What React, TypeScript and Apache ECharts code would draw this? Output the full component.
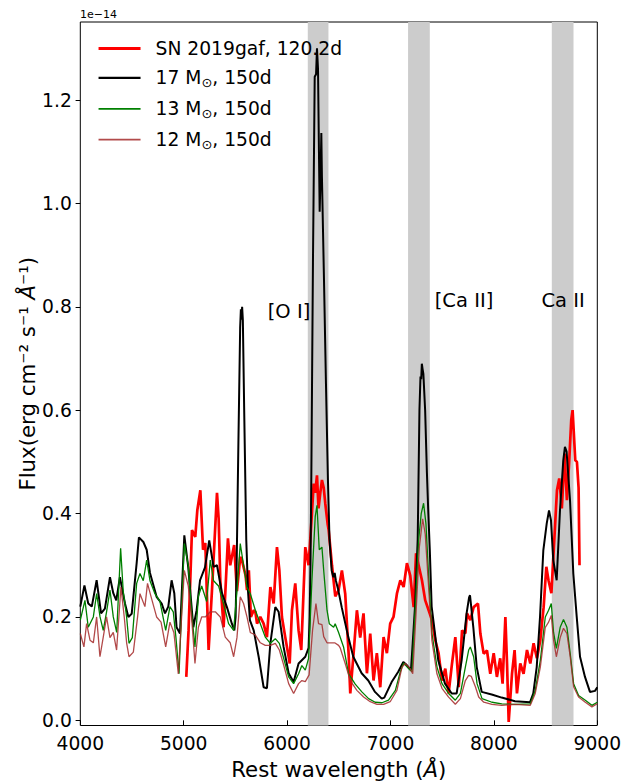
import React, { useEffect, useRef } from "react";
import * as echarts from "echarts";

// ---------- data (flux in units of 1e-14 erg cm^-2 s^-1 Å^-1) ----------
const seriesNames = ["SN 2019gaf, 120.2d", "17 M⊙, 150d", "13 M⊙, 150d", "12 M⊙, 150d"];

const redWl = [5025, 5047, 5080, 5112, 5132, 5161, 5187, 5209, 5241, 5273, 5322, 5338, 5354, 5386, 5428, 5450, 5488, 5515, 5547, 5563, 5599, 5612, 5630, 5650, 5677, 5693, 5709, 5741, 5773, 5805, 5838, 5870, 5902, 5925, 5950, 5982, 6015, 6025, 6047, 6079, 6111, 6137, 6176, 6208, 6240, 6257, 6272, 6289, 6304, 6321, 6337, 6354, 6369, 6392, 6402, 6434, 6466, 6498, 6530, 6562, 6595, 6611, 6643, 6675, 6707, 6739, 6772, 6804, 6836, 6868, 6901, 6933, 6965, 6997, 7029, 7062, 7095, 7127, 7159, 7191, 7224, 7247, 7272, 7304, 7336, 7369, 7401, 7433, 7465, 7498, 7530, 7562, 7595, 7627, 7660, 7692, 7724, 7740, 7772, 7804, 7846, 7869, 7901, 7933, 7965, 7998, 8029, 8061, 8084, 8111, 8127, 8143, 8175, 8200, 8223, 8255, 8287, 8320, 8352, 8384, 8416, 8449, 8481, 8507, 8529, 8556, 8577, 8610, 8632, 8657, 8684, 8706, 8728, 8748, 8761, 8787, 8803, 8819, 8828];
const redFlux = [0.084, 0.174, 0.368, 0.355, 0.407, 0.445, 0.33, 0.343, 0.136, 0.25, 0.44, 0.39, 0.27, 0.18, 0.352, 0.3, 0.339, 0.25, 0.316, 0.31, 0.28, 0.252, 0.29, 0.2, 0.213, 0.21, 0.187, 0.2, 0.187, 0.161, 0.258, 0.226, 0.335, 0.29, 0.2, 0.161, 0.123, 0.11, 0.213, 0.265, 0.174, 0.136, 0.335, 0.3, 0.4, 0.458, 0.44, 0.474, 0.41, 0.44, 0.465, 0.45, 0.42, 0.38, 0.368, 0.3, 0.24, 0.252, 0.29, 0.245, 0.129, 0.052, 0.129, 0.213, 0.16, 0.207, 0.091, 0.168, 0.077, 0.13, 0.064, 0.161, 0.13, 0.187, 0.2, 0.245, 0.271, 0.258, 0.304, 0.28, 0.219, 0.323, 0.3, 0.271, 0.232, 0.213, 0.194, 0.155, 0.13, 0.077, 0.1, 0.052, 0.11, 0.161, 0.064, 0.174, 0.168, 0.207, 0.194, 0.219, 0.226, 0.168, 0.129, 0.135, 0.09, 0.13, 0.084, 0.12, 0.071, 0.2, 0.11, -0.003, 0.09, 0.136, 0.052, 0.11, 0.09, 0.136, 0.11, 0.149, 0.12, 0.155, 0.219, 0.297, 0.27, 0.246, 0.323, 0.445, 0.468, 0.41, 0.516, 0.426, 0.5, 0.581, 0.6, 0.503, 0.5, 0.45, 0.3];

const m17Wl = [4000, 4040, 4077, 4111, 4158, 4201, 4238, 4287, 4319, 4348, 4383, 4432, 4465, 4497, 4545, 4567, 4610, 4642, 4674, 4738, 4787, 4819, 4851, 4883, 4909, 4931, 4964, 5006, 5044, 5093, 5125, 5158, 5206, 5247, 5289, 5322, 5370, 5418, 5466, 5490, 5502, 5512, 5530, 5546, 5553, 5559, 5565, 5572, 5585, 5605, 5622, 5640, 5677, 5725, 5773, 5805, 5838, 5886, 5918, 5966, 6015, 6063, 6111, 6176, 6208, 6218, 6226, 6234, 6250, 6267, 6280, 6289, 6299, 6308, 6315, 6323, 6331, 6337, 6357, 6376, 6395, 6410, 6431, 6447, 6460, 6472, 6495, 6528, 6592, 6640, 6721, 6785, 6850, 6915, 6940, 7011, 7075, 7124, 7157, 7198, 7215, 7237, 7263, 7280, 7290, 7297, 7303, 7310, 7318, 7335, 7352, 7366, 7380, 7398, 7462, 7527, 7592, 7640, 7688, 7736, 7760, 7769, 7801, 7834, 7882, 7979, 8075, 8204, 8349, 8381, 8414, 8446, 8478, 8511, 8533, 8552, 8574, 8607, 8639, 8671, 8687, 8703, 8736, 8768, 8801, 8833, 8881, 8929, 8978, 9000];
const m17Flux = [0.22, 0.261, 0.226, 0.22, 0.271, 0.207, 0.216, 0.277, 0.246, 0.232, 0.277, 0.226, 0.2, 0.206, 0.304, 0.354, 0.345, 0.33, 0.285, 0.239, 0.226, 0.207, 0.22, 0.271, 0.246, 0.18, 0.168, 0.358, 0.296, 0.18, 0.213, 0.271, 0.296, 0.348, 0.297, 0.3, 0.246, 0.219, 0.187, 0.174, 0.2, 0.3, 0.55, 0.76, 0.795, 0.775, 0.8, 0.775, 0.6, 0.35, 0.25, 0.194, 0.174, 0.123, 0.064, 0.062, 0.149, 0.219, 0.21, 0.142, 0.091, 0.074, 0.11, 0.123, 0.14, 0.2, 0.3, 0.465, 0.885, 1.245, 1.25, 1.3, 1.26, 1.1, 0.984, 1.05, 1.136, 1.05, 0.85, 0.65, 0.465, 0.35, 0.29, 0.277, 0.285, 0.27, 0.252, 0.219, 0.161, 0.123, 0.091, 0.077, 0.055, 0.042, 0.044, 0.074, 0.094, 0.113, 0.107, 0.097, 0.15, 0.22, 0.35, 0.6, 0.665, 0.66, 0.69, 0.68, 0.67, 0.6, 0.48, 0.4, 0.33, 0.22, 0.116, 0.071, 0.052, 0.052, 0.116, 0.207, 0.238, 0.242, 0.18, 0.103, 0.055, 0.05, 0.044, 0.037, 0.035, 0.052, 0.103, 0.2, 0.329, 0.381, 0.406, 0.387, 0.31, 0.271, 0.406, 0.503, 0.529, 0.52, 0.426, 0.284, 0.2, 0.123, 0.084, 0.055, 0.057, 0.064];

const m13Wl = [4000, 4045, 4077, 4126, 4158, 4191, 4222, 4254, 4287, 4319, 4352, 4390, 4415, 4448, 4471, 4503, 4545, 4577, 4609, 4642, 4674, 4722, 4770, 4826, 4867, 4899, 4925, 4955, 5006, 5044, 5076, 5109, 5142, 5174, 5222, 5257, 5289, 5337, 5386, 5434, 5483, 5515, 5547, 5579, 5612, 5644, 5693, 5741, 5789, 5838, 5886, 5925, 5967, 6015, 6063, 6111, 6143, 6176, 6208, 6240, 6272, 6289, 6311, 6337, 6354, 6386, 6408, 6450, 6465, 6498, 6546, 6595, 6659, 6723, 6788, 6852, 6917, 6981, 7047, 7095, 7127, 7175, 7208, 7240, 7272, 7297, 7320, 7343, 7369, 7401, 7450, 7498, 7562, 7627, 7676, 7724, 7756, 7772, 7804, 7837, 7885, 7981, 8077, 8207, 8352, 8400, 8449, 8497, 8529, 8555, 8577, 8604, 8641, 8673, 8706, 8738, 8771, 8819, 8884, 8948, 9000];
const m13Flux = [0.194, 0.232, 0.18, 0.2, 0.245, 0.2, 0.174, 0.21, 0.252, 0.2, 0.17, 0.333, 0.25, 0.2, 0.149, 0.16, 0.265, 0.284, 0.27, 0.31, 0.27, 0.245, 0.23, 0.174, 0.22, 0.21, 0.16, 0.09, 0.342, 0.3, 0.21, 0.142, 0.24, 0.26, 0.23, 0.31, 0.27, 0.26, 0.225, 0.187, 0.174, 0.25, 0.342, 0.3, 0.258, 0.245, 0.213, 0.187, 0.161, 0.149, 0.158, 0.149, 0.12, 0.084, 0.071, 0.09, 0.106, 0.097, 0.12, 0.271, 0.394, 0.416, 0.33, 0.335, 0.29, 0.213, 0.187, 0.18, 0.187, 0.17, 0.142, 0.09, 0.07, 0.055, 0.042, 0.035, 0.034, 0.039, 0.058, 0.094, 0.111, 0.1, 0.094, 0.219, 0.348, 0.4, 0.42, 0.38, 0.277, 0.168, 0.103, 0.071, 0.052, 0.039, 0.052, 0.103, 0.136, 0.142, 0.123, 0.071, 0.042, 0.035, 0.032, 0.031, 0.032, 0.058, 0.116, 0.2, 0.213, 0.226, 0.17, 0.139, 0.18, 0.195, 0.18, 0.129, 0.071, 0.048, 0.039, 0.029, 0.035];

const m12Wl = [4000, 4035, 4061, 4094, 4126, 4158, 4190, 4222, 4254, 4287, 4319, 4351, 4393, 4425, 4448, 4471, 4513, 4554, 4577, 4625, 4650, 4690, 4738, 4781, 4826, 4867, 4905, 4948, 5006, 5044, 5076, 5109, 5142, 5174, 5209, 5257, 5306, 5354, 5402, 5450, 5483, 5515, 5547, 5579, 5612, 5644, 5693, 5741, 5789, 5838, 5886, 5925, 5967, 6015, 6063, 6111, 6143, 6176, 6213, 6246, 6279, 6304, 6337, 6354, 6386, 6428, 6460, 6498, 6514, 6562, 6611, 6675, 6740, 6804, 6869, 6933, 6997, 7062, 7111, 7143, 7191, 7215, 7247, 7279, 7311, 7336, 7368, 7400, 7449, 7498, 7562, 7627, 7676, 7724, 7756, 7782, 7821, 7853, 7902, 7981, 8077, 8207, 8352, 8400, 8449, 8497, 8529, 8555, 8577, 8604, 8641, 8673, 8706, 8738, 8771, 8819, 8884, 8948, 9000];
const m12Flux = [0.168, 0.142, 0.187, 0.155, 0.15, 0.2, 0.123, 0.161, 0.2, 0.16, 0.17, 0.136, 0.258, 0.2, 0.15, 0.123, 0.132, 0.2, 0.245, 0.22, 0.265, 0.235, 0.2, 0.19, 0.142, 0.19, 0.17, 0.09, 0.29, 0.26, 0.2, 0.11, 0.18, 0.2, 0.2, 0.21, 0.21, 0.2, 0.161, 0.15, 0.123, 0.16, 0.239, 0.226, 0.2, 0.17, 0.165, 0.15, 0.145, 0.145, 0.149, 0.136, 0.107, 0.071, 0.052, 0.071, 0.077, 0.075, 0.088, 0.174, 0.226, 0.187, 0.185, 0.162, 0.15, 0.15, 0.15, 0.145, 0.14, 0.11, 0.077, 0.058, 0.045, 0.036, 0.031, 0.031, 0.036, 0.058, 0.103, 0.11, 0.1, 0.09, 0.207, 0.335, 0.39, 0.36, 0.26, 0.155, 0.09, 0.062, 0.045, 0.031, 0.042, 0.077, 0.087, 0.085, 0.065, 0.045, 0.035, 0.031, 0.029, 0.031, 0.029, 0.052, 0.103, 0.18, 0.19, 0.203, 0.155, 0.123, 0.16, 0.178, 0.168, 0.123, 0.065, 0.045, 0.035, 0.026, 0.032];

const bands = [[6200, 6400], [7170, 7380], [8560, 8770]];
const lineLabels = ["[O I]", "[Ca II]", "Ca II"];
const xTicks = [4000, 5000, 6000, 7000, 8000, 9000];
const yTicks = [0, 0.2, 0.4, 0.6, 0.8, 1.0, 1.2];

const FONT = "DejaVu Sans";

export default function App() {
  const ref = useRef<HTMLDivElement>(null);
  useEffect(() => {
    if (!ref.current) return;
    const chart = echarts.init(ref.current, null, { renderer: "svg" });
    const colors = ["#ff0000", "#000000", "#008000", "#a52a2a"];
    const widths = [2.7, 2, 1.3, 1.3];
    const sets: [number[], number[]][] = [
      [redWl, redFlux],
      [m17Wl, m17Flux],
      [m13Wl, m13Flux],
      [m12Wl, m12Flux],
    ];
    const lineSeries = sets.map(([wl, fl], i) => ({
      name: seriesNames[i],
      type: "line",
      data: wl.map((x, k) => [x, fl[k]]),
      showSymbol: false,
      symbol: "none",
      silent: true,
      z: 3,
      lineStyle: { color: colors[i], width: widths[i], opacity: i === 3 ? 0.85 : 1 },
      itemStyle: { color: colors[i] },
    }));
    const legendFmt = (name: string) => {
      if (name.indexOf("⊙") >= 0) {
        const [a, b] = name.split("⊙");
        return `{a|${a}}{s|⊙}{a|${b}}`;
      }
      return `{a|${name}}`;
    };
    const labelPos = [
      [289, 311],
      [464, 300],
      [563, 300],
    ];
    chart.setOption({
      animation: false,
      grid: { left: 80.3, right: 29.7, top: 22, bottom: 56.5, show: true, borderColor: "#000", borderWidth: 1, backgroundColor: "transparent", outerBoundsMode: "none" },
      legend: {
        orient: "vertical",
        left: 97,
        top: 39,
        padding: 0,
        itemWidth: 42,
        itemHeight: 14,
        itemGap: 10.4,
        selectedMode: false,
        z: 20,
        itemStyle: { opacity: 0, borderWidth: 0 },
        data: seriesNames.map((n, i) => ({ name: n, itemStyle: { opacity: 0, borderWidth: 0 }, lineStyle: { width: widths[i] + 0.4, color: colors[i] } })),
        formatter: legendFmt,
        textStyle: {
          padding: [0, 0, 0, 10],
          rich: {
            a: { fontFamily: FONT, fontSize: 18.7, color: "#000", lineHeight: 22 },
            s: { fontFamily: FONT, fontSize: 13, color: "#000", lineHeight: 14, verticalAlign: "bottom" },
          },
        },
      },
      xAxis: {
        type: "value",
        min: xTicks[0],
        max: xTicks[xTicks.length - 1],
        interval: 1000,
        axisLine: { show: false },
        axisTick: { show: true, inside: false, length: 4.7, lineStyle: { color: "#000", width: 1 } },
        splitLine: { show: false },
        axisLabel: { fontFamily: FONT, fontSize: 18.7, color: "#000", margin: 8, formatter: (v: number) => String(v) },
        name: "{a|Rest wavelength (}{i|Å}{a|)}",
        nameLocation: "middle",
        nameGap: 32,
        nameMoveOverlap: false,
        nameTextStyle: {
          rich: {
            a: { fontFamily: FONT, fontSize: 21.3, color: "#000", lineHeight: 24 },
            i: { fontFamily: FONT, fontSize: 21.3, color: "#000", lineHeight: 24, fontStyle: "italic" },
          },
        },
      },
      yAxis: {
        type: "value",
        min: -0.01,
        max: 1.351,
        axisLine: { show: false },
        axisTick: { show: true, inside: false, length: 4.7, lineStyle: { color: "#000", width: 1 }, customValues: yTicks },
        splitLine: { show: false },
        axisLabel: { fontFamily: FONT, fontSize: 18.7, color: "#000", margin: 8.5, customValues: yTicks, formatter: (v: number) => v.toFixed(1) },
        name: "{a|Flux(erg cm⁻² s⁻¹ }{i|Å}{a|⁻¹)}",
        nameLocation: "middle",
        nameRotate: 90,
        nameGap: 41,
        nameMoveOverlap: false,
        nameTextStyle: {
          rich: {
            a: { fontFamily: FONT, fontSize: 21.3, color: "#000", lineHeight: 24 },
            i: { fontFamily: FONT, fontSize: 21.3, color: "#000", lineHeight: 24, fontStyle: "italic" },
          },
        },
      },
      graphic: [
        { type: "text", left: 80, top: 9, z: 100, style: { text: "1e−14", fontFamily: FONT, fontSize: 11, fill: "#000" } },
        ...lineLabels.map((t, i) => ({
          type: "text",
          x: labelPos[i][0],
          y: labelPos[i][1],
          z: 100,
          style: { text: t, fontFamily: FONT, fontSize: 19.5, fill: "#000", align: "center", verticalAlign: "middle" },
        })),
      ],
      series: [
        {
          name: "bands",
          type: "line",
          data: [],
          silent: true,
          z: 1,
          markArea: {
            silent: true,
            itemStyle: { color: "#cccccc" },
            data: bands.map(([a, b]) => [{ xAxis: a }, { xAxis: b }]),
          },
        },
        ...lineSeries,
      ],
    });
    return () => chart.dispose();
  }, []);
  return <div ref={ref} style={{ position: "absolute", left: 0, top: 0, width: 627, height: 782 }} />;
}
